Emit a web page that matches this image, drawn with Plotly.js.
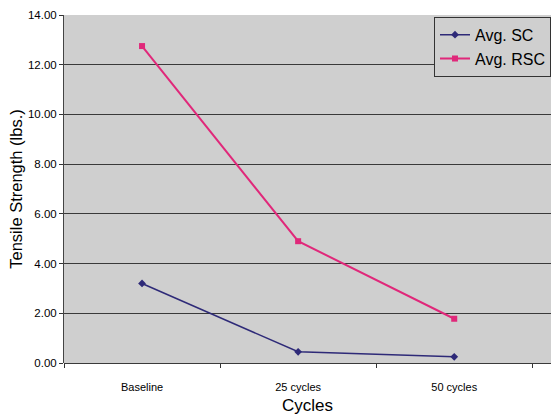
<!DOCTYPE html>
<html>
<head>
<meta charset="utf-8">
<script src="https://cdn.plot.ly/plotly-3.0.1.min.js"></script>
<style>html,body{margin:0;padding:0;background:#fff;}#chart{width:551px;height:418px;}</style>
</head>
<body>
<div id="chart"></div>
<script>
const categories = ["Baseline", "25 cycles", "50 cycles"];
const avgSC = [3.2, 0.45, 0.25];
const avgRSC = [12.75, 4.9, 1.78];
const yTicks = [0, 2, 4, 6, 8, 10, 12, 14];

const traces = [
  {x: categories, y: avgSC, name: "Avg. SC", type: "scatter", mode: "lines+markers",
   line: {color: "#2e2a78", width: 1.5}, marker: {symbol: "diamond", size: 6, color: "#2e2a78"}},
  {x: categories, y: avgRSC, name: "Avg. RSC", type: "scatter", mode: "lines+markers",
   line: {color: "#e0287a", width: 2}, marker: {symbol: "square", size: 6, color: "#e0287a"}}
];

const layout = {
  width: 551, height: 418,
  margin: {l: 64, r: 0, t: 15, b: 55},
  paper_bgcolor: "#ffffff",
  plot_bgcolor: "#cfcfcf",
  font: {family: "Liberation Sans, Arial, sans-serif", color: "#000"},
  showlegend: true,
  legend: {x: 1, xanchor: "right", y: 0.995, yanchor: "top", bgcolor: "#cfcfcf",
           bordercolor: "#333", borderwidth: 1, font: {size: 16}, tracegroupgap: 0,
           itemwidth: 30},
  xaxis: {type: "category", range: [-0.5, 2.62], tickson: "boundaries", ticks: "outside",
          ticklen: 4, tickcolor: "#333", showgrid: false, showline: false,
          ticklabelstandoff: 16,
          tickfont: {size: 11}, title: {text: "Cycles", font: {size: 17}, standoff: 7}},
  yaxis: {range: [0, 14], tickvals: yTicks, tickformat: ".2f", ticks: "outside", ticklen: 4,
          tickcolor: "#333", showline: true, linecolor: "#444", linewidth: 1,
          gridcolor: "#3a3a3a", gridwidth: 1, zeroline: true, zerolinecolor: "#3a3a3a",
          tickfont: {size: 11.5}, title: {text: "Tensile Strength (lbs.)", font: {size: 16.5}, standoff: 1}}
};

Plotly.newPlot("chart", traces, layout, {displayModeBar: false, staticPlot: true});
</script>
</body>
</html>
